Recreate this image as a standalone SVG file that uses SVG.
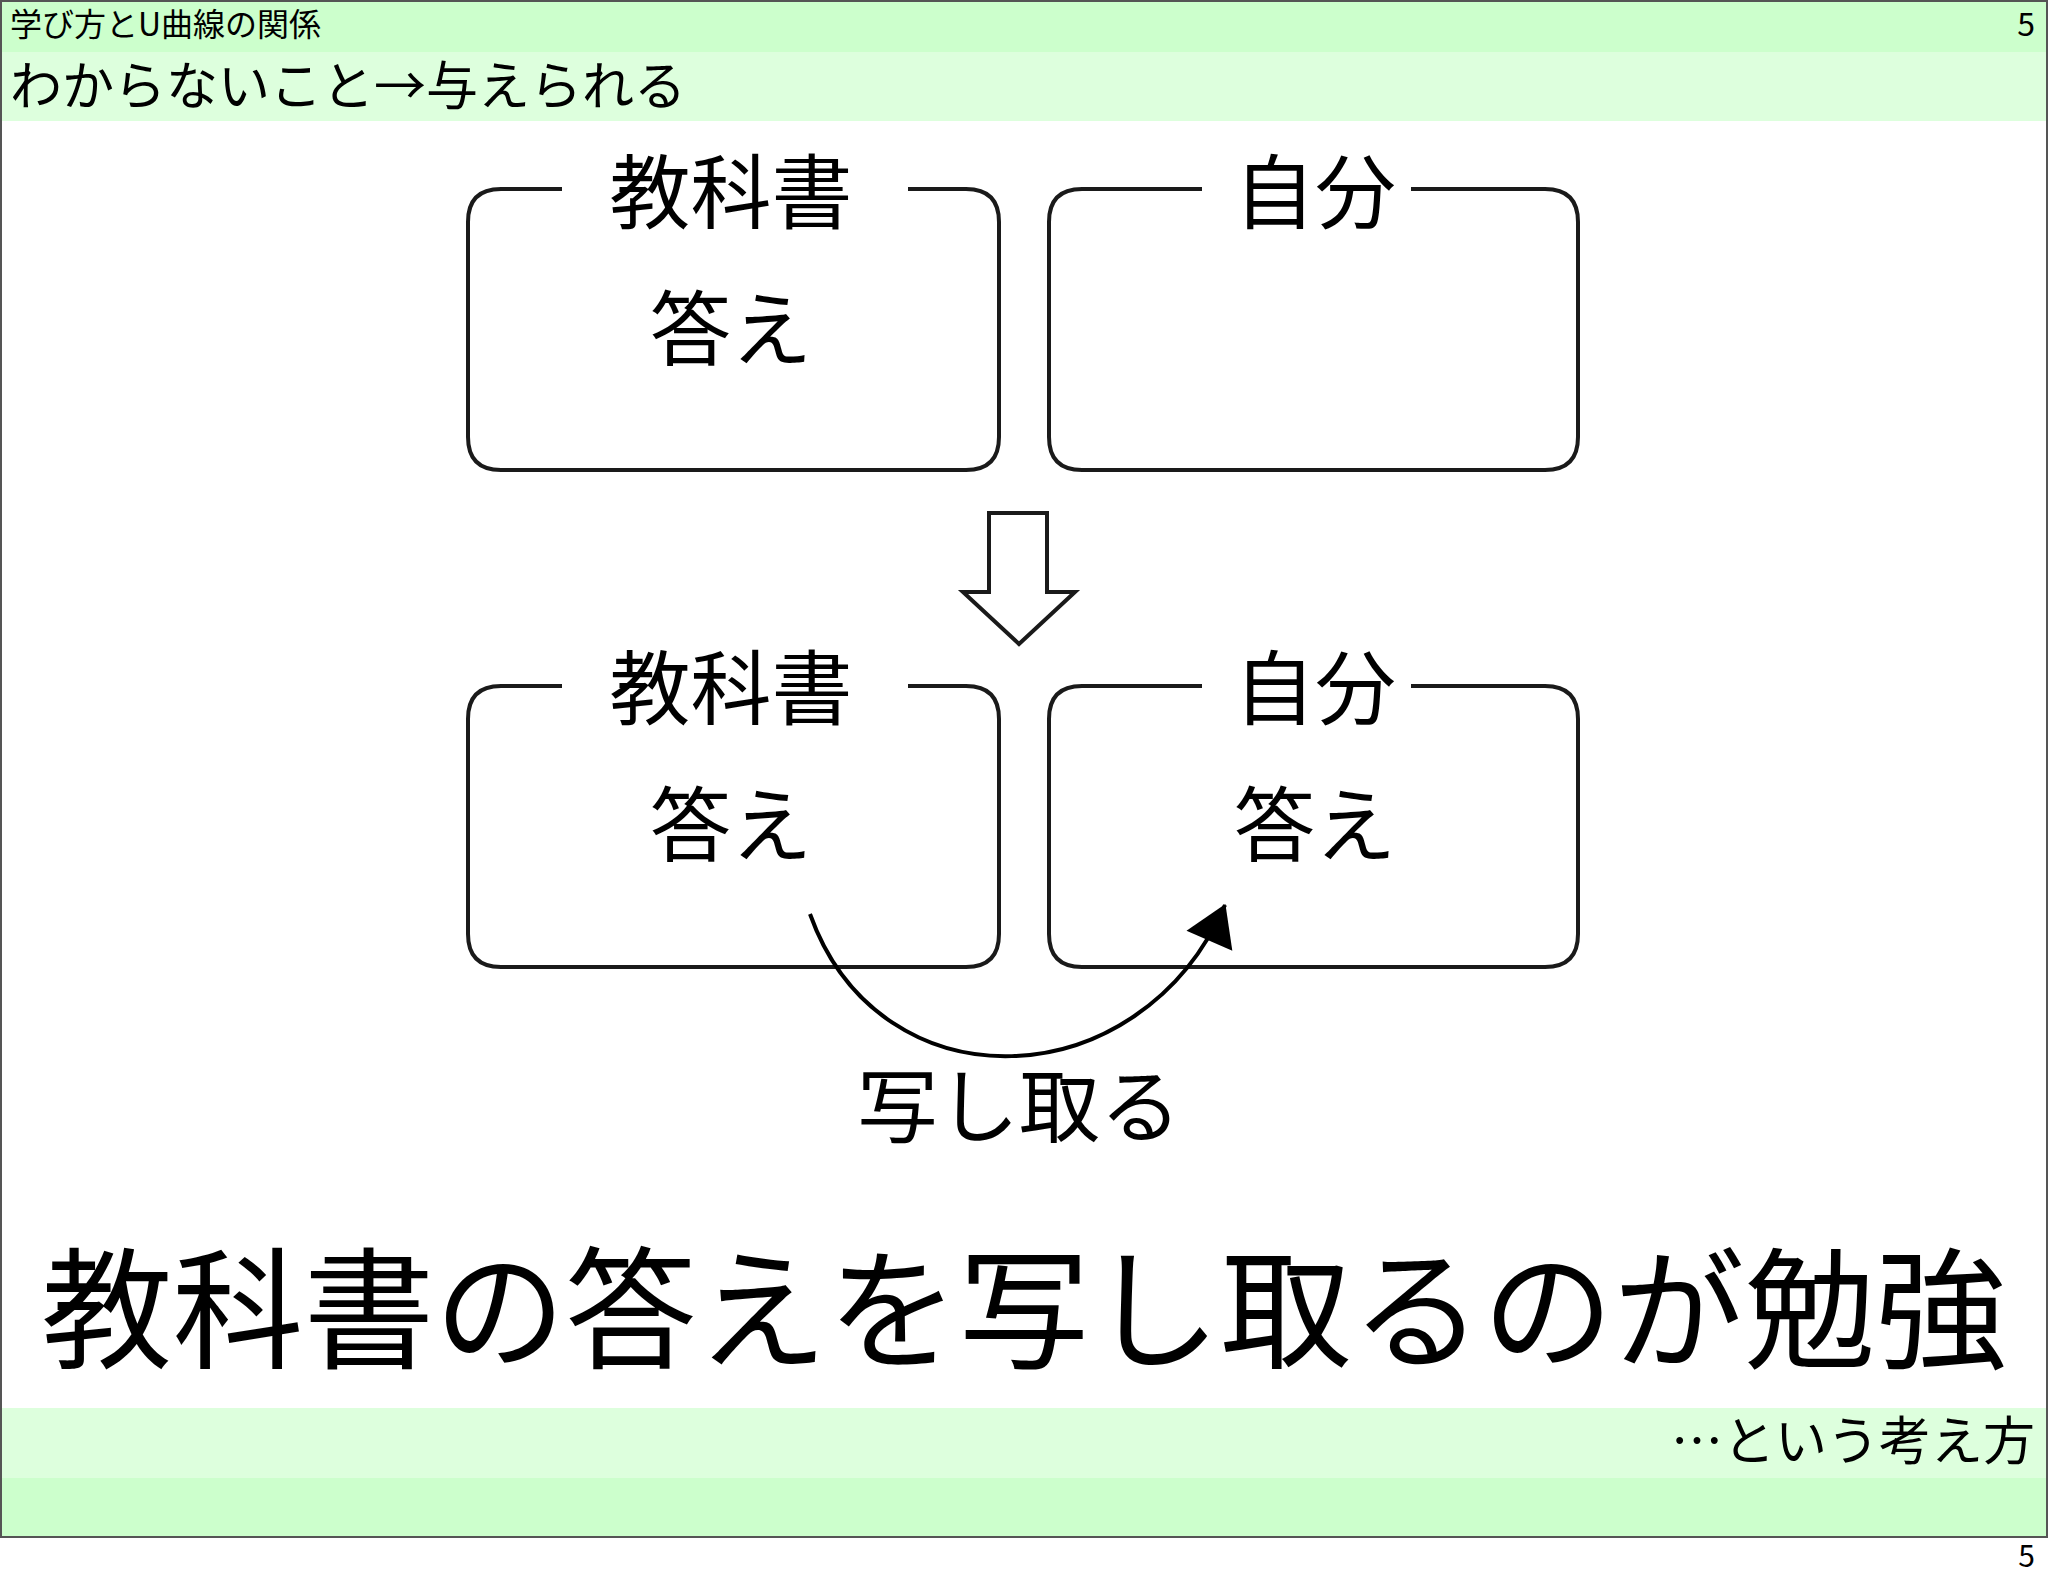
<svg xmlns="http://www.w3.org/2000/svg" width="2048" height="1587" viewBox="0 0 2048 1587">
<style>
text{font-family:"Noto Sans CJK JP","Liberation Sans",sans-serif;fill:#000}
.box{fill:none;stroke:#1a1a1a;stroke-width:4}
.t{font-size:81px;text-anchor:middle}
</style>
<defs>
<marker id="ah" markerWidth="10" markerHeight="10" refX="9" refY="5" orient="auto" markerUnits="userSpaceOnUse" viewBox="0 0 10 10" style="overflow:visible">
<path d="M-30 -20 L10 5 L-30 30 Z" transform="translate(0,0)" fill="#000"/>
</marker>
</defs>
<rect width="2048" height="1587" fill="#fff"/>
<rect x="0" y="0" width="2048" height="52" fill="#ccffcc"/>
<rect x="0" y="52" width="2048" height="69" fill="#ddffdd"/>
<rect x="0" y="1408" width="2048" height="70" fill="#ddffdd"/>
<rect x="0" y="1478" width="2048" height="59" fill="#ccffcc"/>
<rect x="1" y="1" width="2046" height="1536" fill="none" stroke="#555" stroke-width="2"/>
<text x="10" y="36" font-size="32">学び方とU曲線の関係</text>
<text x="2035" y="36" font-size="32" text-anchor="end">5</text>
<text x="10" y="105" font-size="52">わからないこと→与えられる</text>
<g id="box1">
<path class="box" d="M562 189 H501 Q468 189 468 222 V437 Q468 470 501 470 H966 Q999 470 999 437 V222 Q999 189 966 189 H908"/>
<text class="t" x="731" y="222">教科書</text>
<text class="t" x="731" y="359">答え</text>
</g>
<g id="box2">
<path class="box" d="M1202 189 H1082 Q1049 189 1049 222 V437 Q1049 470 1082 470 H1545 Q1578 470 1578 437 V222 Q1578 189 1545 189 H1411"/>
<text class="t" x="1315" y="222">自分</text>
</g>
<g id="box3">
<path class="box" d="M562 686 H501 Q468 686 468 719 V934 Q468 967 501 967 H966 Q999 967 999 934 V719 Q999 686 966 686 H908"/>
<text class="t" x="731" y="718">教科書</text>
<text class="t" x="731" y="855">答え</text>
</g>
<g id="box4">
<path class="box" d="M1202 686 H1082 Q1049 686 1049 719 V934 Q1049 967 1082 967 H1545 Q1578 967 1578 934 V719 Q1578 686 1545 686 H1411"/>
<text class="t" x="1315" y="718">自分</text>
<text class="t" x="1315" y="855">答え</text>
</g>
<g id="connectors">
<path d="M989 513 H1047 V592 H1075 L1019 644 L963 592 H989 Z" fill="#fff" stroke="#1a1a1a" stroke-width="4"/>
<path d="M810 914 C 880 1110, 1140 1100, 1225 905" fill="none" stroke="#000" stroke-width="4" marker-end="url(#ah)"/>
</g>
<text class="t" x="1019" y="1136">写し取る</text>
<text x="1024" y="1358" font-size="131" text-anchor="middle">教科書の答えを写し取るのが勉強</text>
<text x="2035" y="1460" font-size="52" text-anchor="end">…という考え方</text>
<text x="2035" y="1567" font-size="30" text-anchor="end">5</text>
</svg>
